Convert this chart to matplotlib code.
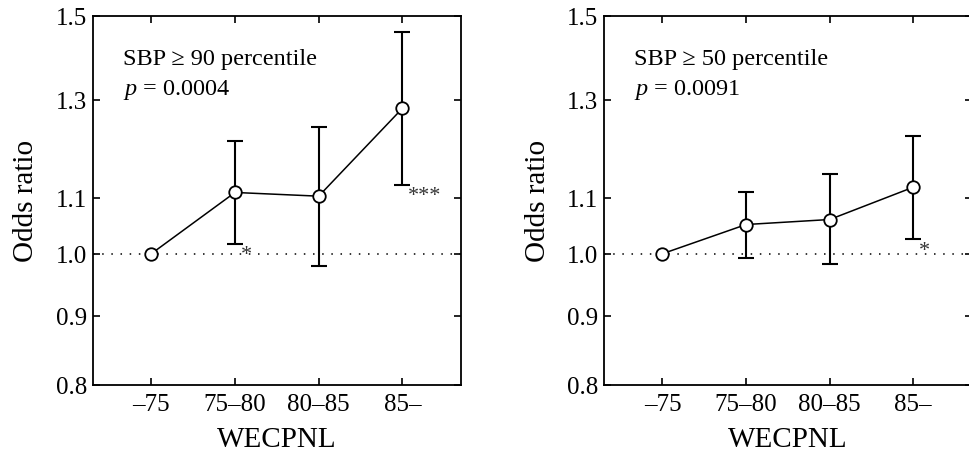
import matplotlib
matplotlib.use("Agg")
import matplotlib.pyplot as plt
from matplotlib.ticker import FixedLocator, NullLocator, FixedFormatter

plt.rcParams["font.family"] = ["Liberation Serif", "DejaVu Serif"]
plt.rcParams["mathtext.fontset"] = "custom"
plt.rcParams["mathtext.rm"] = "Liberation Serif"
plt.rcParams["mathtext.it"] = "Liberation Serif:italic"

categories = ["\u201375", "75\u201380", "80\u201385", "85\u2013"]

# SBP >= 90 percentile
or_90 = [1.0, 1.110, 1.103, 1.281]
lo_90 = [1.0, 1.017, 0.980, 1.125]
hi_90 = [1.0, 1.212, 1.242, 1.459]
stars_90 = ["", "*", "", "***"]
title_90 = "SBP \u2265 90 percentile"
p_90 = "0.0004"

# SBP >= 50 percentile
or_50 = [1.0, 1.051, 1.060, 1.120]
lo_50 = [1.0, 0.993, 0.983, 1.025]
hi_50 = [1.0, 1.111, 1.145, 1.223]
stars_50 = ["", "", "", "*"]
title_50 = "SBP \u2265 50 percentile"
p_50 = "0.0091"

yticks = [0.8, 0.9, 1.0, 1.1, 1.3, 1.5]


def draw_panel(ax, ors, lows, highs, stars, label, pval):
    x = list(range(len(categories)))
    ax.axhline(1.0, color="black", lw=1.1, dashes=(1, 5), zorder=1)
    err = [[o - l for o, l in zip(ors, lows)], [h - o for o, h in zip(ors, highs)]]
    ax.errorbar(x[1:], ors[1:], yerr=[err[0][1:], err[1][1:]], fmt="none",
                ecolor="black", elinewidth=1.5, capsize=5.5, capthick=1.5, zorder=2)
    ax.plot(x, ors, color="black", lw=1.1, marker="o", markersize=9,
            markerfacecolor="white", markeredgecolor="black",
            markeredgewidth=1.3, zorder=3)
    for i, s in enumerate(stars):
        if s:
            ax.annotate(s, xy=(i, lows[i]), xytext=(4, -1),
                        textcoords="offset points", ha="left", va="top",
                        fontsize=16, color="#333333")

    ax.set_yscale("log")
    ax.set_ylim(0.8, 1.5)
    ax.yaxis.set_major_locator(FixedLocator(yticks))
    ax.yaxis.set_major_formatter(FixedFormatter([f"{v:.1f}" for v in yticks]))
    ax.yaxis.set_minor_locator(NullLocator())
    ax.set_xlim(-0.7, 3.7)
    ax.set_xticks(x)
    ax.set_xticklabels(categories)
    ax.tick_params(direction="in", top=True, right=True, length=5,
                   width=1.2, labelsize=18)
    ax.tick_params(axis="x", pad=6)
    ax.tick_params(axis="y", pad=4)
    for sp in ax.spines.values():
        sp.set_linewidth(1.3)

    ax.set_xlabel("WECPNL", fontsize=21, labelpad=8)
    ax.set_ylabel("Odds ratio", fontsize=21, labelpad=12)

    ax.text(0.082, 0.885, label, transform=ax.transAxes, fontsize=17.5,
            ha="left", va="center")
    ax.text(0.082, 0.801, f"$p$ = {pval}", transform=ax.transAxes,
            fontsize=17.5, ha="left", va="center")


fig = plt.figure(figsize=(9.69, 4.52), dpi=100)
ax1 = fig.add_axes([0.0957, 0.1467, 0.3800, 0.8163])
ax2 = fig.add_axes([0.6233, 0.1467, 0.3796, 0.8163])

draw_panel(ax1, or_90, lo_90, hi_90, stars_90, title_90, p_90)
draw_panel(ax2, or_50, lo_50, hi_50, stars_50, title_50, p_50)

fig.savefig("out.png", dpi=100)
plt.close(fig)
